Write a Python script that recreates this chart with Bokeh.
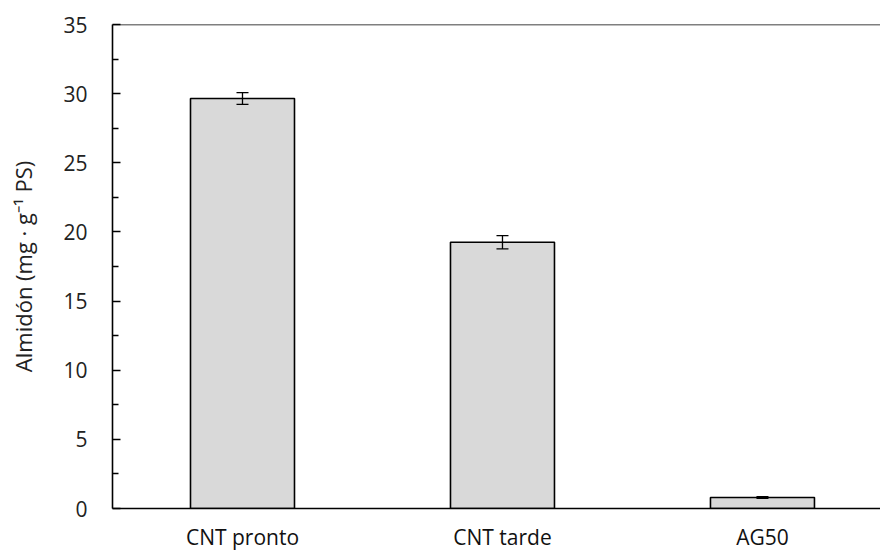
from bokeh.plotting import figure
from bokeh.models import ColumnDataSource, Whisker, TeeHead, Span, FixedTicker, Range1d
from bokeh.embed import file_html
from bokeh.resources import INLINE

# Starch content per treatment
categories = ["CNT pronto", "CNT tarde", "AG50"]
starch = [29.65, 19.25, 0.8]
starch_err = [0.42, 0.48, 0.06]
y_ticks = [0, 5, 10, 15, 20, 25, 30, 35]

FONT = "Open Sans"

xpos = [i + 0.5 for i in range(len(categories))]
src = ColumnDataSource(dict(
    x=xpos,
    top=starch,
    upper=[v + e for v, e in zip(starch, starch_err)],
    lower=[v - e for v, e in zip(starch, starch_err)],
))

p = figure(width=880, height=553, output_backend="svg", toolbar_location=None,
           x_range=Range1d(0, 2.954), y_range=Range1d(0, 35),
           min_border_left=112, min_border_right=0, min_border_top=24,
           min_border_bottom=45)
p.outline_line_color = None
p.grid.visible = False
p.background_fill_color = "white"
p.border_fill_color = "white"

p.vbar(x="x", top="top", width=0.4, bottom=0, source=src,
       fill_color="#d9d9d9", line_color="black", line_width=1.6)

p.add_layout(Whisker(source=src, base="x", upper="upper", lower="lower",
                     level="overlay",
                     line_color="black", line_width=1.3,
                     upper_head=TeeHead(size=12, line_color="black", line_width=1.3),
                     lower_head=TeeHead(size=12, line_color="black", line_width=1.3)))

# top frame line
p.add_layout(Span(location=35, dimension="width", line_color="black", line_width=1.6))

# y axis
ya = p.yaxis[0]
ya.ticker = FixedTicker(ticks=y_ticks, minor_ticks=[2.5 + 5 * i for i in range(7)])
ya.major_tick_in = 8
ya.major_tick_out = 0
ya.minor_tick_in = 6
ya.minor_tick_out = 0
ya.axis_line_width = 1.6
ya.major_tick_line_width = 1.3
ya.minor_tick_line_width = 1.3
ya.major_label_text_font = FONT
ya.major_label_text_font_size = "21px"
ya.major_label_text_color = "#222222"
ya.major_label_standoff = 25
ya.axis_label = "Almidón (mg · g⁻¹ PS)"
ya.axis_label_text_font = FONT
ya.axis_label_text_font_size = "22px"
ya.axis_label_text_font_style = "normal"
ya.axis_label_text_color = "#222222"
ya.axis_label_standoff = 22

# x axis
xa = p.xaxis[0]
xa.ticker = FixedTicker(ticks=xpos)
xa.major_label_overrides = {x: c for x, c in zip(xpos, categories)}
xa.major_tick_in = 0
xa.major_tick_out = 0
xa.minor_tick_line_color = None
xa.axis_line_width = 1.6
xa.major_label_text_font = FONT
xa.major_label_text_font_size = "21px"
xa.major_label_text_color = "#111111"
xa.major_label_standoff = 14

open("out.html", "w").write(file_html(p, INLINE))
